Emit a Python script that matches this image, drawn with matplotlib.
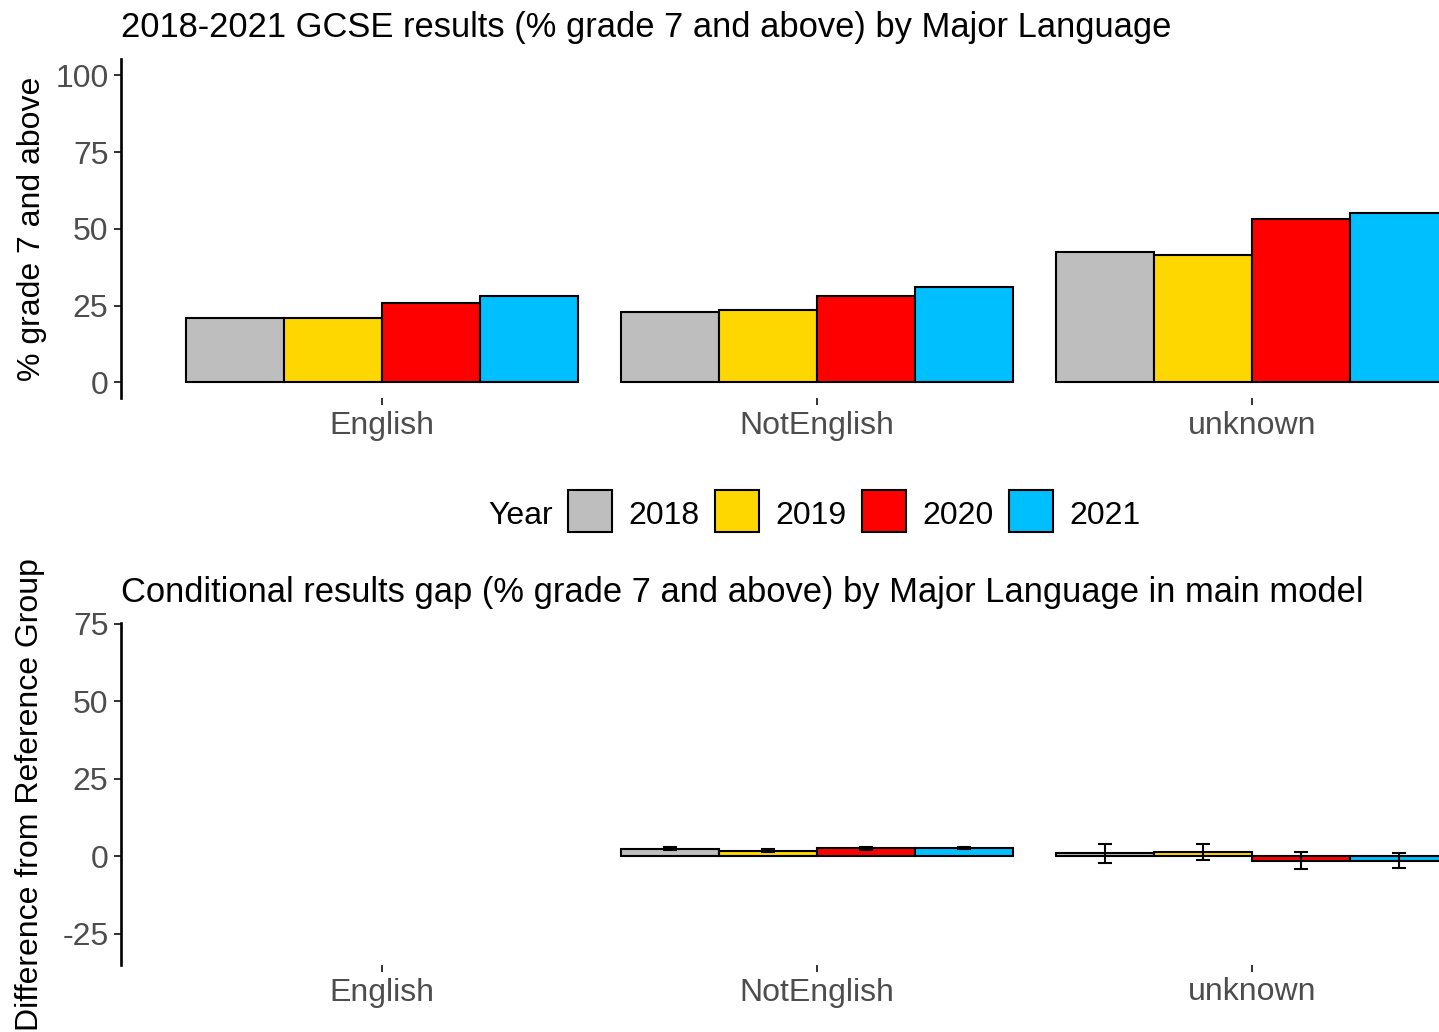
import matplotlib
matplotlib.use("Agg")
import matplotlib.pyplot as plt
from matplotlib.patches import Rectangle
import numpy as np

plt.rcParams['font.family'] = ['Liberation Sans', 'DejaVu Sans']

categories = ["English", "NotEnglish", "unknown"]
years = ["2018", "2019", "2020", "2021"]
colors = ["#BEBEBE", "#FFD700", "#FF0000", "#00BFFF"]

# Top panel: % grade 7 and above
top_2018 = [20.8, 22.8, 42.4]
top_2019 = [21.0, 23.4, 41.6]
top_2020 = [25.9, 28.2, 53.3]
top_2021 = [28.1, 31.2, 55.0]

# Bottom panel: conditional gap (English = reference group, no bars)
gap_2018 = [np.nan, 2.5, 1.0]
gap_2019 = [np.nan, 1.9, 1.5]
gap_2020 = [np.nan, 2.6, -1.4]
gap_2021 = [np.nan, 2.8, -1.3]
err_2018 = [np.nan, 0.4, 3.0]
err_2019 = [np.nan, 0.4, 2.6]
err_2020 = [np.nan, 0.4, 2.8]
err_2021 = [np.nan, 0.4, 2.5]

top_vals = [top_2018, top_2019, top_2020, top_2021]
gap_vals = [gap_2018, gap_2019, gap_2020, gap_2021]
gap_errs = [err_2018, err_2019, err_2020, err_2021]

W, H = 1439, 1032
fig = plt.figure(figsize=(W / 100, H / 100), dpi=100)

def px_axes(x0, x1, ytop, ybot):
    return fig.add_axes([x0 / W, 1 - ybot / H, (x1 - x0) / W, (ybot - ytop) / H])

ax1 = px_axes(121, 1513, 59.3, 398.3)
ax2 = px_axes(121, 1513, 623.3, 965)

x = np.arange(len(categories))
bw = 0.9 / 4
offs = (np.arange(4) - 1.5) * bw

TICK_COL = "#4D4D4D"
FS_TICK = 23
FS_LAB = 23
FS_TITLE = 24.85

def style(ax, ylim, yticks, ylabel):
    ax.set_xlim(-0.6, 2.6)
    ax.set_ylim(*ylim)
    ax.set_yticks(yticks)
    ax.set_yticklabels([str(t) for t in yticks])
    ax.set_xticks(x)
    ax.set_xticklabels(categories)
    for s in ["top", "right", "bottom"]:
        ax.spines[s].set_visible(False)
    ax.spines["left"].set_linewidth(1.9)
    ax.spines["left"].set_color("black")
    ax.tick_params(axis="both", length=5, width=1.4, color="#333333",
                   labelsize=FS_TICK, labelcolor=TICK_COL, pad=4)
    ax.set_ylabel(ylabel, fontsize=FS_LAB, labelpad=6)
    ax.set_facecolor("none")

for i in range(4):
    ax1.bar(x + offs[i], top_vals[i], width=bw, color=colors[i],
            edgecolor="black", linewidth=1.5, zorder=2)
style(ax1, (-5.2, 105.2), [0, 25, 50, 75, 100], "% grade 7 and above")

for i in range(4):
    ax2.bar(x + offs[i], gap_vals[i], width=bw, color=colors[i],
            edgecolor="black", linewidth=1.5, zorder=2)
    ax2.errorbar(x + offs[i], gap_vals[i], yerr=gap_errs[i], fmt="none",
                 ecolor="black", elinewidth=1.5, capsize=4.7, capthick=1.5, zorder=3)
style(ax2, (-35.0, 75.2), [-25, 0, 25, 50, 75], "Difference from Reference Group")

ax1.yaxis.set_label_coords(-(121 - 32) / (1513 - 121), 0.5)
ax2.yaxis.set_label_coords(-(121 - 30) / (1513 - 121), 0.5)
ax1.yaxis.label.set_va("center")
ax2.yaxis.label.set_va("center")

fig.text(121 / W, 1 - 37 / H, "2018-2021 GCSE results (% grade 7 and above) by Major Language",
         fontsize=FS_TITLE, va="baseline", ha="left")
fig.text(121 / W, 1 - 602 / H,
         "Conditional results gap (% grade 7 and above) by Major Language in main model",
         fontsize=FS_TITLE, va="baseline", ha="left")

# Legend
fig.text(553 / W, 1 - 512 / H, "Year", fontsize=FS_TICK, ha="right", va="center_baseline")
box_x = [568, 715, 862, 1009]
for i in range(4):
    fig.add_artist(Rectangle((box_x[i] / W, 1 - 532 / H), 44 / W, 42 / H,
                             transform=fig.transFigure, facecolor=colors[i],
                             edgecolor="black", linewidth=1.5))
    fig.text((box_x[i] + 60) / W, 1 - 512 / H, years[i], fontsize=FS_TICK,
             ha="left", va="center_baseline")

fig.savefig("out.png", dpi=100)
